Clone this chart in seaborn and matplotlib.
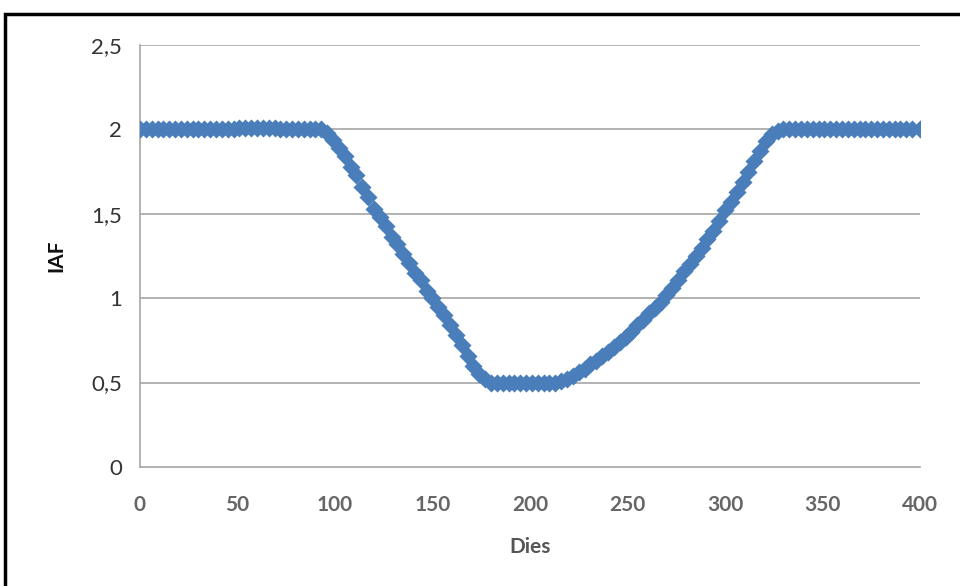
import matplotlib
matplotlib.use("Agg")
import matplotlib.pyplot as plt
import seaborn as sns
import pandas as pd
from matplotlib.patches import Rectangle
from matplotlib.ticker import FuncFormatter

# days (every 3 days) and IAF values
dias = [0, 3, 6, 9, 12, 15, 18, 21, 24, 27, 30, 33, 36, 39, 42, 45, 48, 51, 54, 57,
        60, 63, 66, 69, 72, 75, 78, 81, 84, 87, 90, 93, 96, 99, 102, 105, 108, 111, 114, 117,
        120, 123, 126, 129, 132, 135, 138, 141, 144, 147, 150, 153, 156, 159, 162, 165, 168, 171, 174, 177,
        180, 183, 186, 189, 192, 195, 198, 201, 204, 207, 210, 213, 216, 219, 222, 225, 228, 231, 234, 237,
        240, 243, 246, 249, 252, 255, 258, 261, 264, 267, 270, 273, 276, 279, 282, 285, 288, 291, 294, 297,
        300, 303, 306, 309, 312, 315, 318, 321, 324, 327, 330, 333, 336, 339, 342, 345, 348, 351, 354, 357,
        360, 363, 366, 369, 372, 375, 378, 381, 384, 387, 390, 393, 396, 400]
iaf = [2.00, 2.00, 2.00, 2.00, 2.00, 2.00, 2.00, 2.00, 2.00, 2.00, 2.00, 2.00, 2.00, 2.00, 2.00, 2.00, 2.00, 2.01, 2.01, 2.01,
       2.01, 2.01, 2.01, 2.01, 2.00, 2.00, 2.00, 2.00, 2.00, 2.00, 2.00, 2.00, 1.98, 1.94, 1.89, 1.84, 1.78, 1.73, 1.66, 1.60,
       1.53, 1.48, 1.43, 1.36, 1.32, 1.26, 1.21, 1.15, 1.11, 1.04, 1.00, 0.95, 0.90, 0.84, 0.78, 0.72, 0.66, 0.60, 0.55, 0.52,
       0.50, 0.50, 0.50, 0.50, 0.50, 0.50, 0.50, 0.50, 0.50, 0.50, 0.50, 0.50, 0.51, 0.52, 0.54, 0.56, 0.58, 0.61, 0.63, 0.66,
       0.68, 0.71, 0.74, 0.77, 0.80, 0.84, 0.87, 0.91, 0.94, 0.98, 1.02, 1.06, 1.11, 1.16, 1.20, 1.25, 1.30, 1.35, 1.40, 1.46,
       1.52, 1.57, 1.63, 1.69, 1.75, 1.81, 1.87, 1.93, 1.97, 1.99, 2.00, 2.00, 2.00, 2.00, 2.00, 2.00, 2.00, 2.00, 2.00, 2.00,
       2.00, 2.00, 2.00, 2.00, 2.00, 2.00, 2.00, 2.00, 2.00, 2.00, 2.00, 2.00, 2.00, 2.00]
x_ticks = [0, 50, 100, 150, 200, 250, 300, 350, 400]
y_ticks = [0, 0.5, 1, 1.5, 2, 2.5]

df = pd.DataFrame({"Dies": dias, "IAF": iaf})

sns.set_style("white")
plt.rcParams['font.family'] = ['Lato', 'DejaVu Sans']

fig = plt.figure(figsize=(9.6, 5.86), dpi=100)
ax = fig.add_axes([0.1458, 0.2031, 0.8125, 0.7201])

# gray horizontal gridlines like excel
for v in y_ticks[1:]:
    ax.axhline(v, color="#a6a6a6", lw=1.2, zorder=0)

sns.scatterplot(data=df, x="Dies", y="IAF", marker="D", color="#4a7ebb",
                s=85, linewidth=0, ax=ax, zorder=3)

ax.set_xlim(0, 400)
ax.set_ylim(0, 2.5)
ax.set_xticks(x_ticks)
ax.set_yticks(y_ticks)
ax.yaxis.set_major_formatter(FuncFormatter(lambda v, p: ("%g" % v).replace(".", ",")))

for s in ["top", "right"]:
    ax.spines[s].set_visible(False)
for s in ["left", "bottom"]:
    ax.spines[s].set_color("#a6a6a6")
    ax.spines[s].set_linewidth(1.2)

ax.tick_params(axis="x", direction="out", length=6, width=1, color="#a6a6a6",
               labelsize=15, labelcolor="#666666", pad=14)
ax.tick_params(axis="y", direction="out", length=5, width=1, color="#a6a6a6",
               labelsize=16, labelcolor="#333333", pad=8)
for t in ax.get_xticklabels():
    t.set_fontweight("bold")

ax.set_xlabel("Dies", fontsize=15, fontweight="bold", color="#555555", labelpad=16)
ax.set_ylabel("IAF", fontsize=15, fontweight="bold", color="#111111", labelpad=18)

# black frame around the chart (cut off at right and bottom)
fig.patches.append(Rectangle((5 / 960, -0.05), 1.2, 1 - 14 / 586 + 0.05,
                             transform=fig.transFigure, fill=False,
                             edgecolor="black", lw=2.5))

fig.savefig("out.png", dpi=100)
